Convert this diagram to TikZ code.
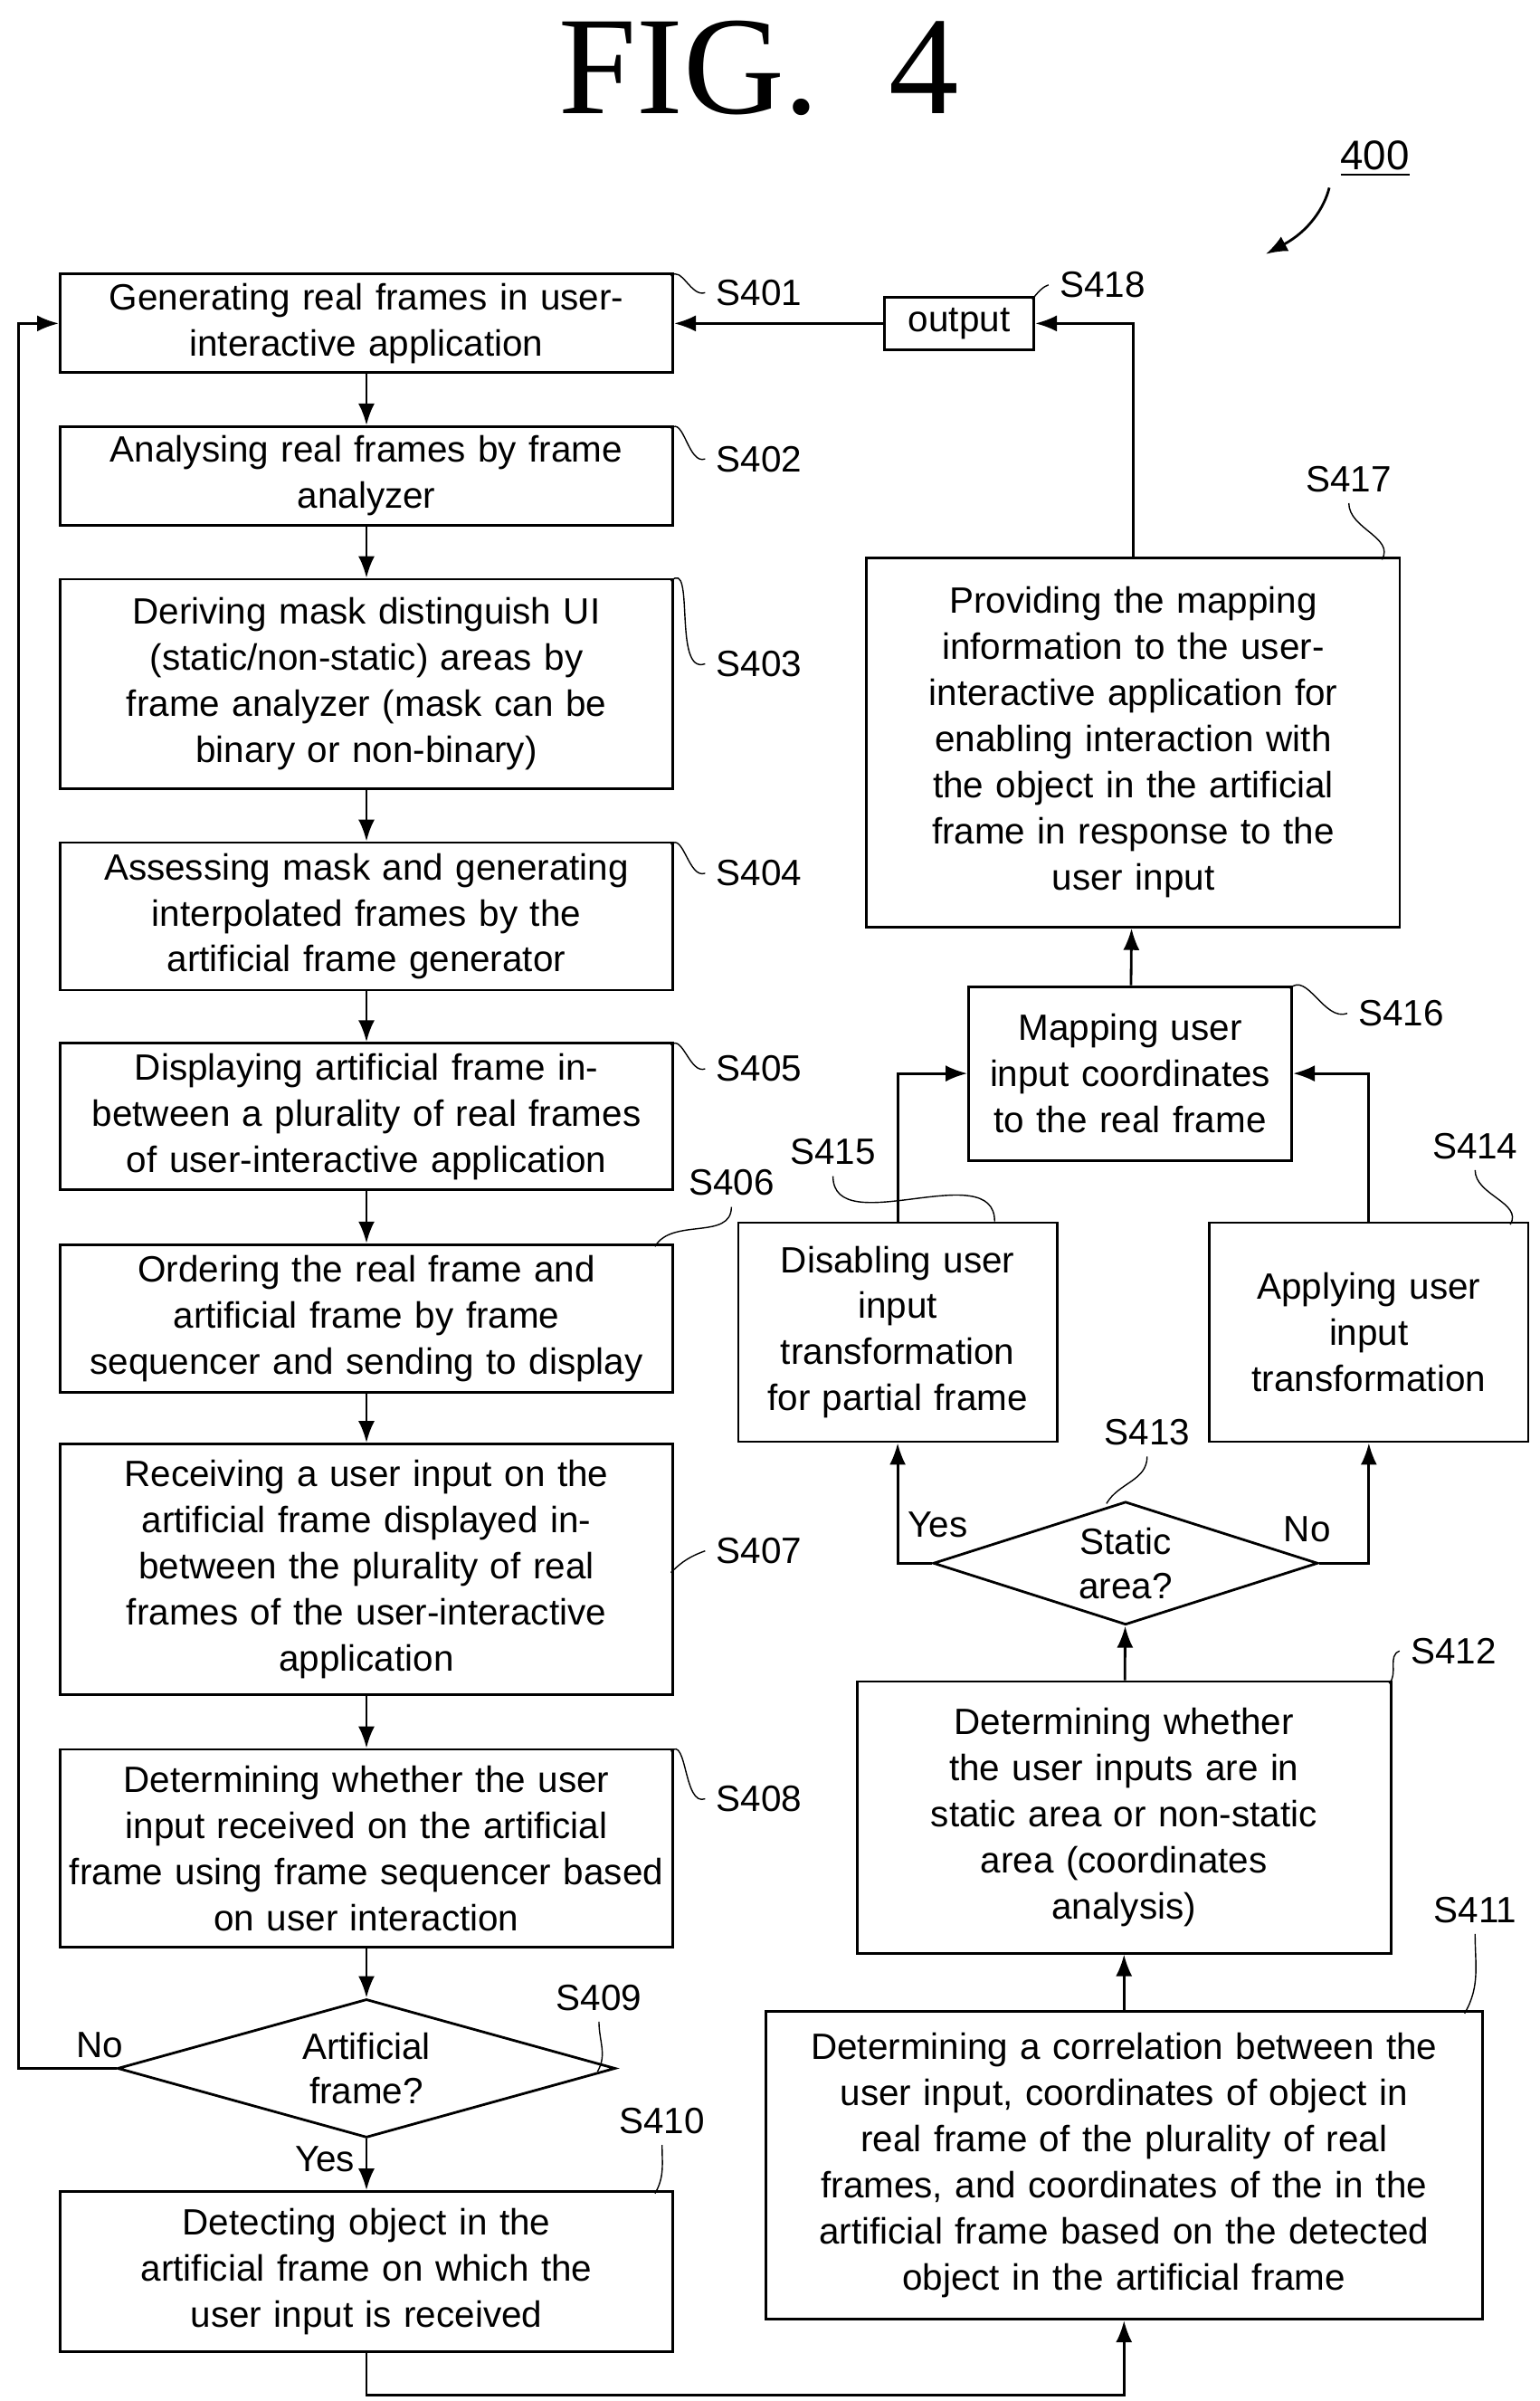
\documentclass[tikz,border=0pt]{standalone}
\usepackage{fontspec}
\setmainfont{Liberation Sans}
\newfontfamily\figfont{Liberation Serif}
\usetikzlibrary{arrows.meta, positioning, shapes.geometric}
\tikzset{
    stepbox/.style={draw, thick, align=center, font=\fontsize{11.5}{14.5}\selectfont, inner sep=1pt},
    dec/.style={draw, thick, diamond, aspect=3.6, align=center, font=\fontsize{11.5}{14}\selectfont, inner sep=1pt},
    tag/.style={font=\fontsize{11.5}{14}\selectfont},
    flow/.style={-{Latex[length=2.4mm,width=1.8mm]}, thick},
    lead/.style={thin}
}
\begin{document}
\begin{tikzpicture}[x=0.01702cm, y=-0.01702cm]
    \useasboundingbox (0,0) rectangle (1000,1559);
    % Title and reference number
    \node[font=\figfont\fontsize{44}{44}\selectfont] (fig) at (493,44) {FIG.\ \ 4};
    \node[tag, font=\fontsize{13}{14}\selectfont] (ref) at (893,103) {\underline{400}};
    \coordinate (refend) at (822,165);
    \draw[-{Latex[length=2.4mm]}, thick] (ref.south west) .. controls (860,135) and (850,150) .. (refend);

    % Left column
    \node[stepbox, text width=6.7cm, minimum height=1.09cm] at (238,210) (S401) {Generating real frames in user-\\interactive application};
    \node[stepbox, text width=6.7cm, minimum height=1.09cm] at (238,309) (S402) {Analysing real frames by frame\\analyzer};
    \node[stepbox, text width=6.7cm, minimum height=2.31cm] at (238,444) (S403) {Deriving mask distinguish UI\\(static/non-static) areas by\\frame analyzer (mask can be\\binary or non-binary)};
    \node[stepbox, text width=6.7cm, minimum height=1.63cm] at (238,595) (S404) {Assessing mask and generating\\interpolated frames by the\\artificial frame generator};
    \node[stepbox, text width=6.7cm, minimum height=1.62cm] at (238,725) (S405) {Displaying artificial frame in-\\between a plurality of real frames\\of user-interactive application};
    \node[stepbox, text width=6.7cm, minimum height=1.63cm] at (238,856) (S406) {Ordering the real frame and\\artificial frame by frame\\sequencer and sending to display};
    \node[stepbox, text width=6.7cm, minimum height=2.77cm] at (238,1019) (S407) {Receiving a user input on the\\artificial frame displayed in-\\between the plurality of real\\frames of the user-interactive\\application};
    \node[stepbox, text width=6.7cm, minimum height=2.18cm] at (238,1200) (S408) {Determining whether the user\\input received on the artificial\\frame using frame sequencer based\\on user interaction};
    \node[dec, minimum width=5.5cm, minimum height=1.53cm] at (238,1343) (S409) {Artificial\\frame?};
    \node[stepbox, text width=6.7cm, minimum height=1.77cm] at (238,1475) (S410) {Detecting object in the\\artificial frame on which the\\user input is received};

    % Right column
    \node[stepbox, text width=7.85cm, minimum height=3.4cm] at (730,1406) (S411) {Determining a correlation between the\\user input, coordinates of object in\\real frame of the plurality of real\\frames, and coordinates of the in the\\artificial frame based on the detected\\object in the artificial frame};
    \node[stepbox, text width=5.83cm, minimum height=3.0cm] at (730,1180) (S412) {Determining whether\\the user inputs are in\\static area or non-static\\area (coordinates\\analysis)};
    \node[dec, minimum width=4.25cm, minimum height=1.36cm] at (731,1015) (S413) {Static\\area?};
    \node[stepbox, text width=3.45cm, minimum height=2.42cm] at (889,865) (S414) {Applying user\\input\\transformation};
    \node[stepbox, text width=3.45cm, minimum height=2.42cm] at (583,865) (S415) {Disabling user\\input\\transformation\\for partial frame};
    \node[stepbox, text width=3.5cm, minimum height=1.92cm] at (734,697) (S416) {Mapping user\\input coordinates\\to the real frame};
    \node[stepbox, text width=5.82cm, minimum height=4.08cm] at (736,482) (S417) {Providing the mapping\\information to the user-\\interactive application for\\enabling interaction with\\the object in the artificial\\frame in response to the\\user input};
    \node[stepbox, minimum width=1.65cm, minimum height=0.58cm] at (623,210) (S418) {output};

    % Step labels
    \node[tag] at (493,190) (L401) {S401};
    \node[tag] at (493,298) (L402) {S402};
    \node[tag] at (493,431) (L403) {S403};
    \node[tag] at (493,567) (L404) {S404};
    \node[tag] at (493,694) (L405) {S405};
    \node[tag] at (475,768) (L406) {S406};
    \node[tag] at (493,1007) (L407) {S407};
    \node[tag] at (493,1168) (L408) {S408};
    \node[tag] at (389,1297) (L409) {S409};
    \node[tag] at (430,1377) (L410) {S410};
    \node[tag] at (958,1240) (L411) {S411};
    \node[tag] at (944,1072) (L412) {S412};
    \node[tag] at (745,930) (L413) {S413};
    \node[tag] at (958,744) (L414) {S414};
    \node[tag] at (541,748) (L415) {S415};
    \node[tag] at (910,658) (L416) {S416};
    \node[tag] at (876,311) (L417) {S417};
    \node[tag] at (716,185) (L418) {S418};
    \foreach \s/\e in {L401/S401.north east, L402/S402.north east, L403/S403.north east,
        L404/S404.north east, L405/S405.north east, L408/S408.north east, L407/S407.east,
        L412/S412.north east, L416/S416.north east, L418/S418.north east} {
        \draw[lead] (\s.west) to[out=200, in=45] ([xshift=-1pt, yshift=-1pt]\e);
    }
    \foreach \s/\e in {L406/S406.north east, L409/S409.east, L410/S410.north east,
        L411/S411.north east, L413/S413.north, L414/S414.north east,
        L417/S417.north east} {
        \draw[lead] (\s.south) to[out=-90, in=60] ([xshift=-6pt, yshift=-1pt]\e);
    }
    \draw[lead] (L415.south) to[out=-90, in=90] ([xshift=-20pt]S415.north east);

    % Connectors of the left column
    \foreach \a/\b in {S401/S402, S402/S403, S403/S404, S404/S405, S405/S406, S406/S407, S407/S408, S408/S409, S409/S410} {
        \draw[flow] (\a) -- (\b);
    }
    \coordinate (noturn) at (12,1343);
    \draw[flow] (S409.west) -- (noturn) |- (S401.west);
    \node[tag] at (65,1328) (no409) {No};
    \node[tag] at (211,1402) (yes409) {Yes};
    \coordinate (bottom) at (238,1555);
    \draw[flow] (S410.south) -- (bottom) -| (S411.south);

    % Connectors of the right column
    \draw[flow] (S411) -- (S412);
    \draw[flow] (S412) -- (S413);
    \draw[flow] (S413.west) -| (S415.south);
    \draw[flow] (S413.east) -| (S414.south);
    \node[tag] at (609,990) (yes413) {Yes};
    \node[tag] at (849,993) (no413) {No};
    \draw[flow] (S415.north) |- (S416.west);
    \draw[flow] (S414.north) |- (S416.east);
    \draw[flow] (S416) -- (S417);
    \draw[flow] (S417.north) |- (S418.east);
    \draw[flow] (S418.west) -- (S401.east);
\end{tikzpicture}
\end{document}
